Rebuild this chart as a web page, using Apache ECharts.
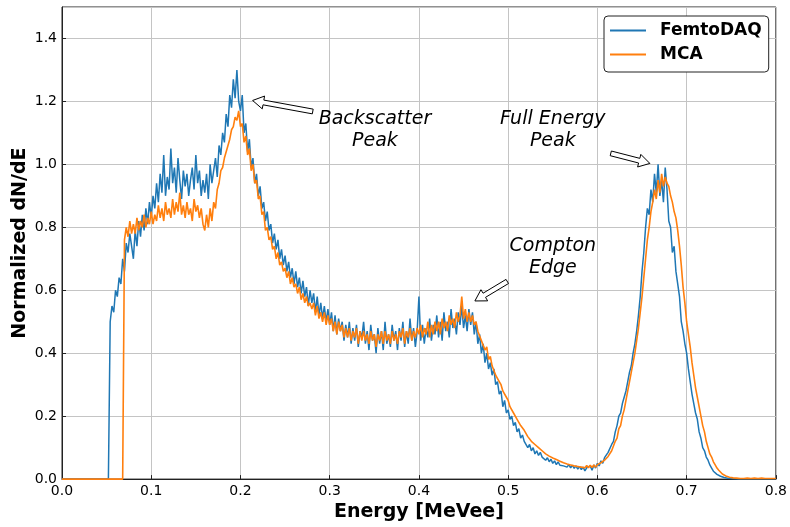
<!DOCTYPE html>
<html>
<head>
<meta charset="utf-8">
<script src="https://cdn.jsdelivr.net/npm/echarts@6/dist/echarts.min.js"></script>
<style>html,body{margin:0;padding:0;background:#fff}#c{width:790px;height:527px}</style>
</head>
<body>
<div id="c"></div>
<script>
// Energy bins (MeVee): bin i is at i * binWidth
const binWidth = 0.002;
const xTicks = ['0.0','0.1','0.2','0.3','0.4','0.5','0.6','0.7','0.8'];
const yTicks = ['0.0','0.2','0.4','0.6','0.8','1.0','1.2','1.4'];

const femtoDAQ = [
0,0,0,0,0,0,0,0,0,0,
0,0,0,0,0,0,0,0,0,0,
0,0,0,0,0,0,0,0.50,0.55,0.53,
0.60,0.58,0.64,0.62,0.70,0.66,0.75,0.72,0.78,0.74,
0.70,0.79,0.74,0.82,0.77,0.84,0.79,0.86,0.81,0.88,
0.83,0.90,0.86,0.94,0.88,0.97,0.91,1.03,0.90,0.96,
0.92,1.05,0.94,0.99,0.91,1.02,0.95,0.89,0.98,0.93,
0.97,0.90,0.95,0.99,0.92,1.03,0.94,0.98,0.90,0.95,
0.91,0.97,0.89,1.00,0.94,0.98,1.02,0.96,1.06,1.03,
1.10,1.07,1.16,1.12,1.22,1.18,1.27,1.21,1.30,1.20,
1.17,1.22,1.10,1.13,1.04,1.08,0.99,1.02,0.94,0.97,
0.90,0.93,0.86,0.88,0.82,0.85,0.79,0.81,0.75,0.78,
0.73,0.76,0.70,0.73,0.68,0.71,0.66,0.69,0.64,0.67,
0.62,0.66,0.61,0.64,0.59,0.63,0.58,0.61,0.55,0.60,
0.56,0.59,0.53,0.58,0.52,0.56,0.51,0.55,0.50,0.54,
0.49,0.53,0.47,0.52,0.46,0.51,0.47,0.50,0.44,0.49,
0.45,0.50,0.43,0.48,0.44,0.49,0.42,0.47,0.45,0.50,
0.43,0.47,0.41,0.49,0.44,0.46,0.40,0.48,0.43,0.47,
0.41,0.50,0.43,0.46,0.42,0.49,0.44,0.47,0.41,0.48,
0.44,0.50,0.42,0.47,0.43,0.51,0.44,0.48,0.42,0.47,
0.58,0.44,0.49,0.43,0.48,0.45,0.51,0.44,0.49,0.46,
0.52,0.45,0.50,0.44,0.53,0.47,0.50,0.45,0.54,0.48,
0.51,0.46,0.53,0.49,0.55,0.48,0.52,0.47,0.54,0.49,
0.53,0.46,0.50,0.43,0.46,0.40,0.43,0.37,0.40,0.35,
0.37,0.33,0.35,0.30,0.31,0.27,0.28,0.23,0.25,0.21,
0.22,0.19,0.20,0.17,0.18,0.15,0.16,0.13,0.14,0.12,
0.125,0.10,0.11,0.09,0.10,0.08,0.09,0.075,0.085,0.07,
0.075,0.06,0.068,0.055,0.063,0.05,0.058,0.046,0.055,0.044,
0.05,0.042,0.048,0.038,0.046,0.036,0.044,0.034,0.042,0.032,
0.04,0.03,0.038,0.026,0.036,0.03,0.042,0.028,0.045,0.035,
0.05,0.042,0.058,0.05,0.068,0.062,0.085,0.08,0.11,0.12,
0.15,0.17,0.20,0.21,0.24,0.26,0.28,0.31,0.34,0.36,
0.40,0.43,0.47,0.52,0.58,0.66,0.72,0.80,0.86,0.84,
0.92,0.88,0.97,0.91,1.00,0.90,0.95,0.88,0.99,0.92,
0.82,0.80,0.72,0.74,0.66,0.62,0.58,0.50,0.47,0.43,
0.40,0.35,0.31,0.27,0.24,0.21,0.19,0.15,0.13,0.10,
0.09,0.07,0.06,0.045,0.035,0.025,0.02,0.015,0.012,0.009,
0.007,0.005,0.004,0.003,0.002,0.002,0.001,0.001,0.001,0,
0,0,0,0,0,0,0,0,0,0,
0,0,0,0,0,0,0,0,0,0,
0
];

const mca = [
0,0,0,0,0,0,0,0,0,0,
0,0,0,0,0,0,0,0,0,0,
0,0,0,0,0,0,0,0,0,0,
0,0,0,0,0,0.76,0.80,0.77,0.82,0.78,
0.81,0.78,0.83,0.79,0.82,0.80,0.84,0.80,0.83,0.81,
0.85,0.81,0.84,0.82,0.87,0.83,0.86,0.82,0.88,0.84,
0.86,0.83,0.89,0.84,0.88,0.85,0.91,0.84,0.87,0.83,
0.88,0.84,0.86,0.82,0.89,0.85,0.87,0.83,0.86,0.81,
0.79,0.84,0.80,0.86,0.82,0.88,0.86,0.92,0.94,0.98,
0.99,1.02,1.04,1.06,1.08,1.11,1.12,1.15,1.14,1.17,
1.12,1.13,1.07,1.09,1.03,1.05,0.98,1.00,0.94,0.95,
0.89,0.90,0.84,0.85,0.79,0.80,0.76,0.77,0.73,0.74,
0.70,0.72,0.68,0.69,0.66,0.67,0.64,0.66,0.62,0.64,
0.61,0.62,0.59,0.61,0.57,0.59,0.56,0.58,0.55,0.56,
0.54,0.56,0.52,0.55,0.51,0.53,0.50,0.53,0.49,0.52,
0.49,0.51,0.47,0.50,0.46,0.50,0.47,0.49,0.45,0.48,
0.45,0.48,0.44,0.47,0.45,0.48,0.43,0.47,0.44,0.47,
0.44,0.46,0.43,0.47,0.44,0.46,0.42,0.46,0.44,0.47,
0.43,0.47,0.44,0.46,0.43,0.47,0.44,0.46,0.43,0.47,
0.45,0.48,0.43,0.47,0.45,0.48,0.44,0.47,0.45,0.48,
0.46,0.49,0.45,0.48,0.46,0.50,0.45,0.49,0.46,0.50,
0.47,0.50,0.46,0.51,0.48,0.50,0.47,0.52,0.49,0.51,
0.48,0.53,0.50,0.52,0.58,0.51,0.54,0.50,0.53,0.50,
0.52,0.49,0.50,0.47,0.47,0.44,0.44,0.41,0.42,0.38,
0.39,0.36,0.36,0.33,0.33,0.31,0.30,0.28,0.28,0.26,
0.25,0.23,0.225,0.21,0.205,0.19,0.185,0.17,0.17,0.155,
0.15,0.135,0.135,0.12,0.12,0.11,0.11,0.10,0.10,0.09,
0.088,0.08,0.082,0.073,0.076,0.067,0.07,0.062,0.065,0.057,
0.06,0.052,0.056,0.048,0.052,0.045,0.049,0.042,0.047,0.04,
0.045,0.038,0.044,0.036,0.043,0.036,0.044,0.037,0.045,0.038,
0.046,0.042,0.052,0.05,0.06,0.058,0.072,0.07,0.09,0.095,
0.12,0.13,0.16,0.17,0.20,0.22,0.25,0.28,0.31,0.34,
0.37,0.40,0.44,0.48,0.53,0.58,0.64,0.70,0.76,0.80,
0.85,0.88,0.92,0.89,0.95,0.91,0.97,0.93,0.96,0.94,
0.93,0.90,0.88,0.85,0.83,0.79,0.74,0.68,0.61,0.56,
0.50,0.46,0.42,0.37,0.33,0.29,0.26,0.23,0.20,0.17,
0.15,0.12,0.10,0.08,0.07,0.055,0.045,0.035,0.028,0.022,
0.016,0.013,0.01,0.008,0.006,0.005,0.004,0.004,0.003,0.003,
0.002,0.003,0.002,0.002,0.003,0.002,0.002,0.002,0.003,0.002,
0.002,0.002,0.003,0.002,0.002,0.002,0.002,0.003,0.002,0.002,
0.002
];

// Annotations: text centre, arrow tail and arrow tip, all in data units
const annotations = [
  {text: 'Backscatter\nPeak', at: [0.3507, 1.108], tail: [0.281, 1.168], tip: [0.2136, 1.203]},
  {text: 'Full Energy\nPeak', at: [0.550, 1.108], tail: [0.615, 1.035], tip: [0.6588, 1.003]},
  {text: 'Compton\nEdge',     at: [0.550, 0.705], tail: [0.499, 0.628], tip: [0.4627, 0.566]}
];

const toPairs = arr => arr.map((v, i) => [+(i * binWidth).toFixed(4), v]);

const FONT = 'DejaVu Sans';
const chart = echarts.init(document.getElementById('c'), null, {renderer: 'canvas'});

chart.setOption({
  animation: false,
  backgroundColor: '#fff',
  grid: {left: 62, right: 14, top: 7, bottom: 46, show: true, borderColor: '#222', borderWidth: 1, backgroundColor: 'transparent'},
  legend: {
    orient: 'vertical', left: 604, top: 16,
    padding: [6, 7, 9, 6], itemGap: 7,
    itemWidth: 36, itemHeight: 2, icon: 'rect',
    backgroundColor: '#fff', borderColor: '#222', borderWidth: 1, borderRadius: 4,
    textStyle: {fontFamily: FONT, fontWeight: 'bold', fontSize: 17, lineHeight: 17, color: '#000', padding: [0, 0, 0, 9]},
    data: ['FemtoDAQ', 'MCA']
  },
  xAxis: {
    type: 'value', min: 0, max: 0.8, interval: 0.1,
    name: 'Energy [MeVee]', nameLocation: 'middle', nameGap: 20,
    nameTextStyle: {fontFamily: FONT, fontWeight: 'bold', fontSize: 19, color: '#000'},
    axisLine: {show: true, lineStyle: {color: '#222'}},
    axisTick: {show: true, inside: true, length: 4, lineStyle: {color: '#222'}},
    axisLabel: {fontFamily: FONT, fontSize: 14, color: '#000', margin: 5,
      formatter: v => xTicks[Math.round(v * 10)] || ''},
    splitLine: {show: true, lineStyle: {color: '#c4c4c4', width: 1}}
  },
  yAxis: {
    type: 'value', min: 0, max: 1.5, interval: 0.2,
    name: 'Normalized dN/dE', nameLocation: 'middle', nameGap: 32, nameMoveOverlap: false,
    nameTextStyle: {fontFamily: FONT, fontWeight: 'bold', fontSize: 19, color: '#000'},
    axisLine: {show: true, lineStyle: {color: '#222'}},
    axisTick: {show: true, inside: true, length: 4, lineStyle: {color: '#222'}},
    axisLabel: {fontFamily: FONT, fontSize: 14, color: '#000', margin: 5, showMaxLabel: false,
      formatter: v => { const k = Math.round(v * 5); return Math.abs(v * 5 - k) < 1e-6 ? (yTicks[k] || '') : ''; }},
    splitLine: {show: true, lineStyle: {color: '#c4c4c4', width: 1}}
  },
  series: [
    {name: 'FemtoDAQ', type: 'line', data: toPairs(femtoDAQ), symbol: 'none',
     lineStyle: {color: '#1f77b4', width: 1.5}, itemStyle: {color: '#1f77b4'}, z: 2},
    {name: 'MCA', type: 'line', data: toPairs(mca), symbol: 'none',
     lineStyle: {color: '#ff7f0e', width: 1.6}, itemStyle: {color: '#ff7f0e'}, z: 3}
  ]
});

function arrowPoints(tail, tip) {
  const a = chart.convertToPixel({gridIndex: 0}, tail);
  const b = chart.convertToPixel({gridIndex: 0}, tip);
  const dx = b[0] - a[0], dy = b[1] - a[1], L = Math.hypot(dx, dy);
  const ux = dx / L, uy = dy / L, nx = -uy, ny = ux;
  const hl = 11, hw = 6.5, sw = 2.4;
  const bx = b[0] - ux * hl, by = b[1] - uy * hl;
  return [[a[0] + nx * sw, a[1] + ny * sw], [bx + nx * sw, by + ny * sw], [bx + nx * hw, by + ny * hw],
          [b[0], b[1]], [bx - nx * hw, by - ny * hw], [bx - nx * sw, by - ny * sw], [a[0] - nx * sw, a[1] - ny * sw]];
}

const graphics = [];
annotations.forEach(an => {
  const p = chart.convertToPixel({gridIndex: 0}, an.at);
  graphics.push({type: 'text', x: p[0], y: p[1], z: 10,
    style: {text: an.text, fontFamily: FONT, fontStyle: 'italic', fontSize: 19, fill: '#000',
      align: 'center', verticalAlign: 'middle', lineHeight: 22}});
  graphics.push({type: 'polygon', z: 10, shape: {points: arrowPoints(an.tail, an.tip)},
    style: {fill: '#fff', stroke: '#000', lineWidth: 1}});
});
chart.setOption({graphic: graphics});
</script>
</body>
</html>
